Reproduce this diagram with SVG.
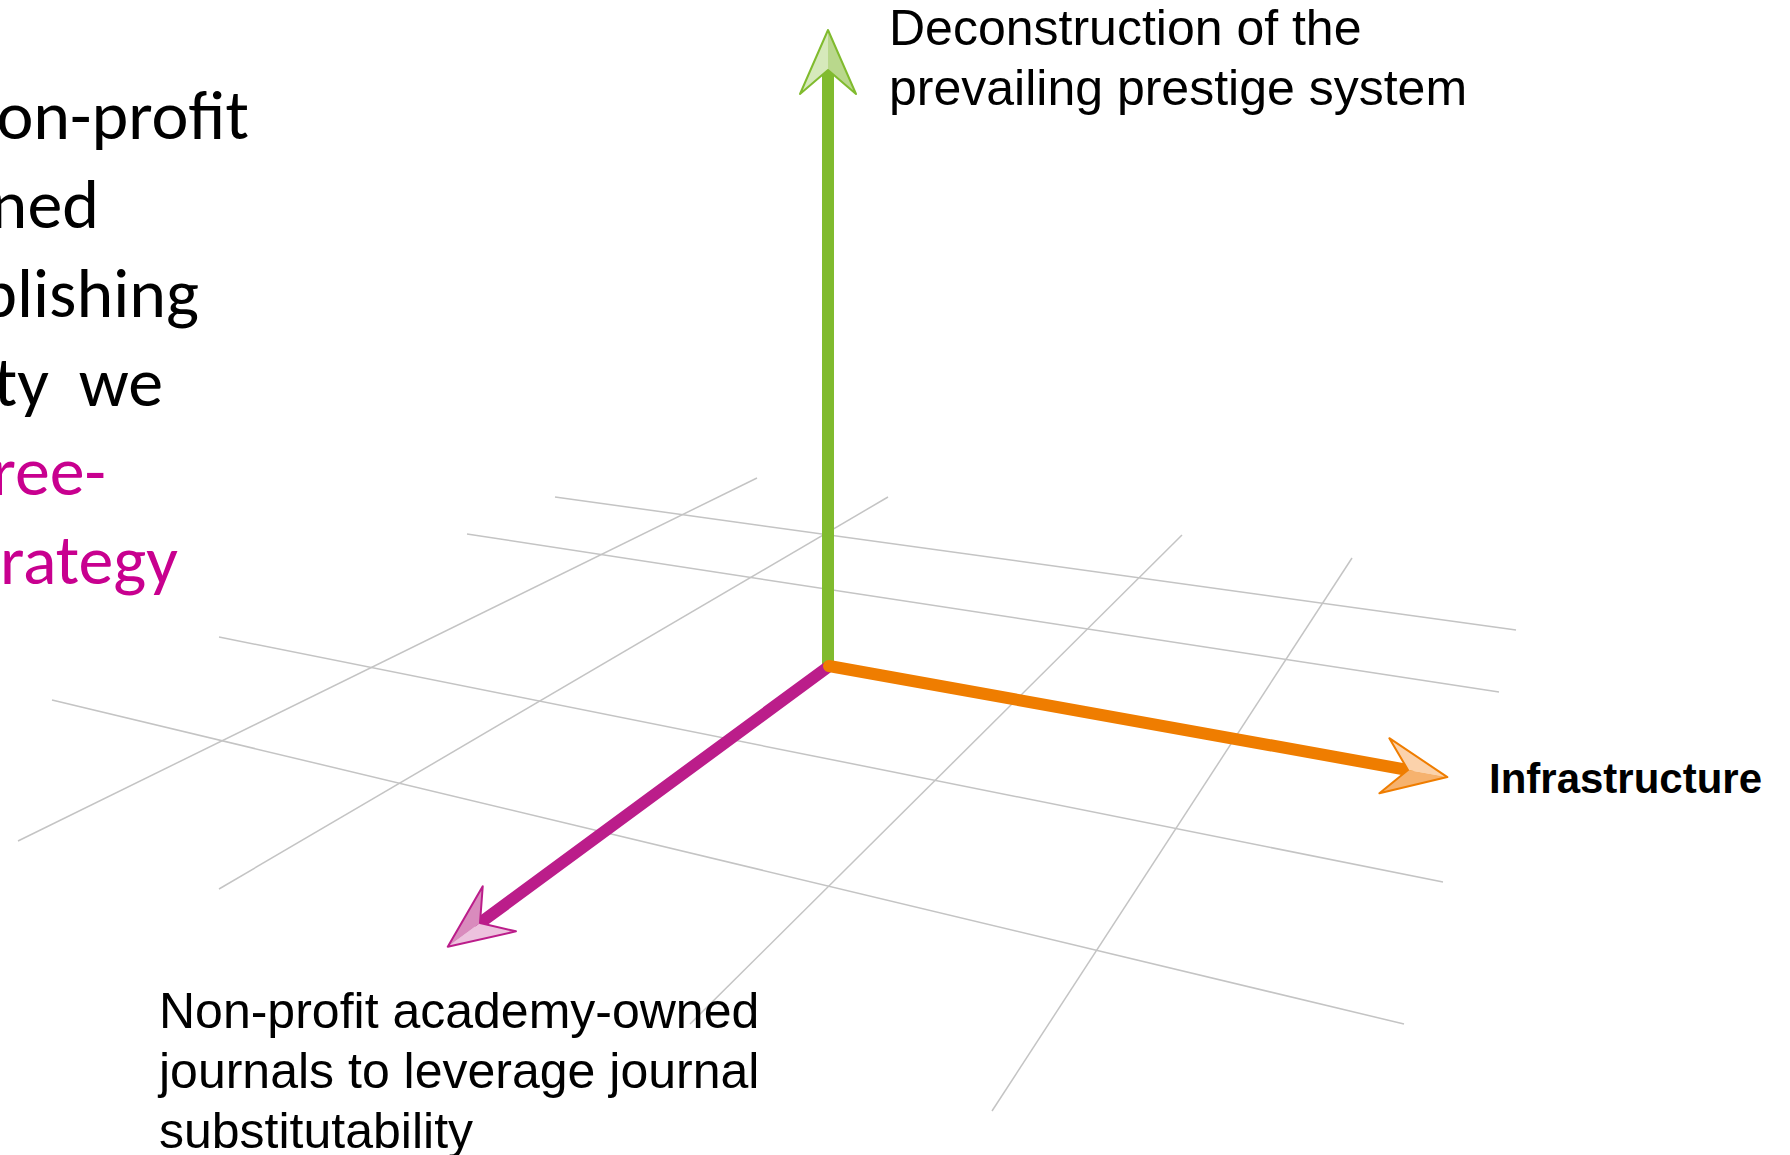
<svg xmlns="http://www.w3.org/2000/svg" width="1790" height="1155" viewBox="0 0 1790 1155">
  <style>
    .grid { stroke: #c4c4c4; stroke-width: 1.5; fill: none; }
    .axis { fill: none; stroke-width: 12; stroke-linecap: round; }
    .lbl { font-family: "Liberation Sans", Arial, Helvetica, sans-serif; font-size: 50px; fill: #000; }
    .lblb { font-family: "Liberation Sans", Arial, Helvetica, sans-serif; font-size: 42px; font-weight: bold; fill: #000; }
    .side { font-family: Carlito, Calibri, Lato, "Open Sans", sans-serif; font-size: 70px; }
  </style>
  <defs>
    <marker id="mGreen" markerUnits="userSpaceOnUse" orient="auto" viewBox="-70 -34 76 68" refX="-40" refY="0" markerWidth="76" markerHeight="68" overflow="visible">
      <path d="M0,0 L-64,-28 L-40,0 Z" fill="#d6e9bb"/>
      <path d="M0,0 L-64,28 L-40,0 Z" fill="#b9d88c"/>
      <path d="M0,0 L-64,-28 L-40,0 L-64,28 Z" fill="none" stroke="#80bb2e" stroke-width="2" stroke-linejoin="round"/>
    </marker>
    <marker id="mOrange" markerUnits="userSpaceOnUse" orient="auto" viewBox="-70 -34 76 68" refX="-40" refY="0" markerWidth="76" markerHeight="68" overflow="visible">
      <path d="M0,0 L-64,-28 L-40,0 Z" fill="#fbd2ab"/>
      <path d="M0,0 L-64,28 L-40,0 Z" fill="#f6b26e"/>
      <path d="M0,0 L-64,-28 L-40,0 L-64,28 Z" fill="none" stroke="#ef7d00" stroke-width="2" stroke-linejoin="round"/>
    </marker>
    <marker id="mMagenta" markerUnits="userSpaceOnUse" orient="auto" viewBox="-70 -34 76 68" refX="-40" refY="0" markerWidth="76" markerHeight="68" overflow="visible">
      <path d="M0,0 L-64,-28 L-40,0 Z" fill="#edc2de"/>
      <path d="M0,0 L-64,28 L-40,0 Z" fill="#d98bbd"/>
      <path d="M0,0 L-64,-28 L-40,0 L-64,28 Z" fill="none" stroke="#bb1d8a" stroke-width="2" stroke-linejoin="round"/>
    </marker>
  </defs>

  <rect width="1790" height="1155" fill="#ffffff"/>

  <g id="side-text">
    <text class="side" x="249" y="139" text-anchor="end" fill="#000">on-profit</text>
    <text class="side" x="99" y="228" text-anchor="end" fill="#000">ned</text>
    <text class="side" x="199" y="317" text-anchor="end" fill="#000">blishing</text>
    <text class="side" x="163" y="406" text-anchor="end" fill="#000" word-spacing="14">ty we</text>
    <text class="side" x="106" y="495" text-anchor="end" fill="#c8008f">ree-</text>
    <text class="side" x="178" y="584" text-anchor="end" fill="#c8008f">rategy</text>
  </g>

  <g id="grid">
    <line class="grid" x1="555" y1="497" x2="1516" y2="630"/>
    <line class="grid" x1="467" y1="534" x2="1499" y2="692"/>
    <line class="grid" x1="219" y1="637" x2="1443" y2="882"/>
    <line class="grid" x1="52" y1="700" x2="1404" y2="1024"/>
    <line class="grid" x1="757" y1="478" x2="18" y2="841"/>
    <line class="grid" x1="888" y1="497" x2="219" y2="889"/>
    <line class="grid" x1="1182" y1="535" x2="690" y2="1024"/>
    <line class="grid" x1="1352" y1="558" x2="992" y2="1111"/>
  </g>

  <g id="connectors">
    <line id="axis-prestige" class="axis" x1="828" y1="664" x2="828" y2="70" stroke="#80bb2e" marker-end="url(#mGreen)"/>
    <line id="axis-journals" class="axis" x1="828" y1="667" x2="480" y2="923" stroke="#bb1d8a" marker-end="url(#mMagenta)"/>
    <line id="axis-infrastructure" class="axis" x1="829" y1="666" x2="1408" y2="770" stroke="#ef7d00" marker-end="url(#mOrange)"/>
  </g>

  <g id="label-prestige">
    <text class="lbl" x="889" y="45">Deconstruction of the</text>
    <text class="lbl" x="889" y="105">prevailing prestige system</text>
  </g>
  <g id="label-infrastructure">
    <text class="lblb" x="1489" y="793">Infrastructure</text>
  </g>
  <g id="label-journals">
    <text class="lbl" x="159" y="1028">Non-profit academy-owned</text>
    <text class="lbl" x="159" y="1088">journals to leverage journal</text>
    <text class="lbl" x="159" y="1148">substitutability</text>
  </g>
</svg>
